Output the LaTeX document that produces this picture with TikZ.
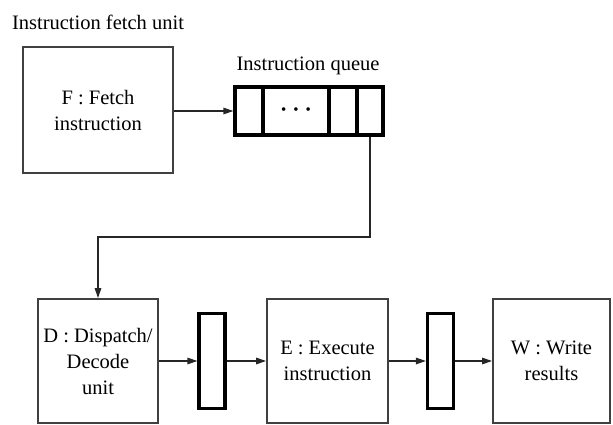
\documentclass[tikz,border=0pt]{standalone}
\usepackage{fontspec}
\setmainfont{Liberation Serif}
\usetikzlibrary{arrows.meta}
\begin{document}
\begin{tikzpicture}[x=1pt,y=-1pt,
  unitbox/.style={draw=black!75, line width=1.8pt, rectangle, align=center, inner sep=0pt,
    font=\fontsize{20.5}{26}\selectfont},
  latchbox/.style={draw=black, line width=3.2pt, rectangle, inner sep=0pt,
    minimum width=26pt, minimum height=95pt},
  qcell/.style={draw=black, line width=3.2pt, rectangle, inner sep=0pt, minimum height=48pt},
  lbl/.style={font=\fontsize{20.5}{24}\selectfont, inner sep=0pt},
  conn/.style={line width=1.4pt, draw=black!85, -{Triangle[length=10pt,width=6.5pt]}}
]
\useasboundingbox (0,0) rectangle (613,425);

\node[lbl] (flabel) at (98,22) {Instruction fetch unit};
\node[unitbox, minimum width=150pt, minimum height=126pt] (F) at (98,110) {F : Fetch\\instruction};

\node[lbl] (qlabel) at (308,66) {Instruction queue};
\node[qcell, minimum width=28pt] (q1) at (249,111) {};
\node[qcell, minimum width=66pt] (q2) at (296,111) {\fontsize{15}{18}\selectfont\textbullet\hspace{7pt}\textbullet\hspace{7pt}\textbullet};
\node[qcell, minimum width=28pt] (q3) at (343,111) {};
\node[qcell, minimum width=26pt] (q4) at (370,111) {};

\node[unitbox, minimum width=120pt, minimum height=124pt] (D) at (98,361) {D : Dispatch/\\Decode\\unit};
\node[latchbox] (L1) at (212,361) {};
\node[unitbox, minimum width=121pt, minimum height=124pt] (E) at (327.5,361) {E : Execute\\instruction};
\node[latchbox] (L2) at (440.5,361) {};
\node[unitbox, minimum width=117pt, minimum height=124pt] (W) at (551.5,361) {W : Write\\results};

\coordinate (turn) at (98,237);

\draw[conn] (F.east |- q1.west) -- (q1.west);
\draw[conn] (q4.south) |- (turn) -- (D.north);
\draw[conn] (D.east) -- (L1.west);
\draw[conn] (L1.east) -- (E.west);
\draw[conn] (E.east) -- (L2.west);
\draw[conn] (L2.east) -- (W.west);
\end{tikzpicture}
\end{document}
